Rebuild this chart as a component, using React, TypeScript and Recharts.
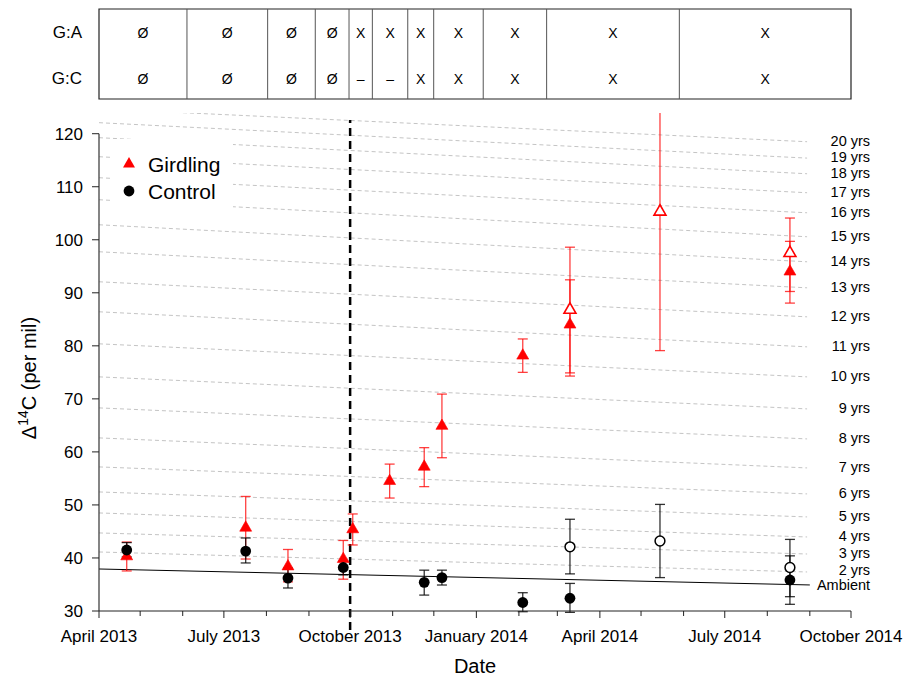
import React from 'react';
import {
  ComposedChart,
  Scatter,
  XAxis,
  YAxis,
  ErrorBar,
  ReferenceLine,
  ReferenceDot,
  ReferenceArea,
  Legend,
} from 'recharts';

const FONT = '"Liberation Sans", Arial, Helvetica, sans-serif';

// x values are days since 1 April 2013
const X_TICKS = [0, 30, 61, 91, 122, 153, 183, 214, 244, 275, 306, 334, 365, 395, 426, 456, 487, 518, 548];
const X_MAJOR = [0, 91, 183, 275, 365, 456, 548];
const X_MAJOR_LABELS = ['April 2013', 'July 2013', 'October 2013', 'January 2014', 'April 2014', 'July 2014', 'October 2014'];
const Y_TICKS = [30, 40, 50, 60, 70, 80, 90, 100, 110, 120];
const GIRDLING_START_DAY = 183;

// [day, value, lower, upper]
const GIRDLING_FILLED: number[][] = [
  [20.2, 40.3, 37.55, 43.0],
  [106.9, 45.7, 39.8, 51.6],
  [137.7, 38.4, 35.5, 41.6],
  [178.0, 39.8, 36.0, 43.3],
  [184.9, 45.4, 42.45, 48.3],
  [211.8, 54.5, 51.3, 57.7],
  [237.0, 57.2, 53.45, 60.8],
  [249.9, 64.9, 58.9, 70.9],
  [308.8, 78.15, 75.0, 81.3],
  [343.2, 84.0, 74.9, 92.45],
  [503.5, 94.0, 88.06, 99.7],
];
const GIRDLING_OPEN: number[][] = [
  [343.2, 86.8, 74.3, 98.6],
  [408.8, 105.3, 79.1, 131.5],
  [503.5, 97.5, 90.25, 104.1],
];
const CONTROL_FILLED: number[][] = [
  [20.2, 41.5, 40.2, 42.9],
  [106.9, 41.3, 39.06, 43.77],
  [137.7, 36.2, 34.34, 38.1],
  [178.0, 38.2, 36.8, 39.4],
  [237.0, 35.4, 33.0, 37.7],
  [249.9, 36.3, 34.9, 37.7],
  [308.8, 31.6, 29.87, 33.45],
  [343.2, 32.4, 29.75, 35.2],
  [503.5, 35.85, 31.26, 40.4],
];
const CONTROL_OPEN: number[][] = [
  [343.2, 42.1, 37.0, 47.3],
  [408.8, 43.2, 36.3, 50.1],
  [503.5, 38.2, 32.7, 43.5],
];

// Atmospheric reference lines (value at start day and at end day)
const REF_START_DAY = 0;
const REF_END_DAY = 516;
const AGE_YEARS = [2, 3, 4, 5, 6, 7, 8, 9, 10, 11, 12, 13, 14, 15, 16, 17, 18, 19, 20];
const AGE_START = [41.13, 44.72, 48.49, 52.45, 57.17, 62.64, 68.3, 74.15, 80.38, 86.42, 92.08, 97.74, 102.83, 107.55, 111.7, 115.66, 119.25, 122.08, 124.7];
const AGE_END = [37.36, 40.75, 43.96, 47.74, 52.08, 56.98, 62.45, 68.11, 74.15, 79.81, 85.47, 90.94, 95.85, 100.57, 105.09, 108.87, 112.45, 115.4, 118.49];
const AMBIENT_START = 37.92;
const AMBIENT_END = 34.91;

// Treatment table
const TABLE_DIVIDERS = [64.1, 122.9, 157.6, 182.2, 199.2, 225.0, 243.9, 280.0, 326.2, 422.9];
const ROW_NAMES = ['G:A', 'G:C'];
const ROW_GA = ['Ø', 'Ø', 'Ø', 'Ø', 'X', 'X', 'X', 'X', 'X', 'X', 'X'];
const ROW_GC = ['Ø', 'Ø', 'Ø', 'Ø', '–', '–', 'X', 'X', 'X', 'X', 'X'];

const RED = '#ff0000';
const PLOT_BOTTOM = 611;

const toPoints = (rows: number[][]) =>
  rows.map(([x, y, lo, hi]) => ({ x, y, err: [y - lo, hi - y] }));

const triPoints = (cx: number, cy: number, r: number) => {
  const xc = r * 0.866;
  return `${cx},${cy - r} ${cx + xc},${cy + r / 2} ${cx - xc},${cy + r / 2}`;
};

const FilledTri = (p: any) => (
  <polygon points={triPoints(p.cx, p.cy, 6.9)} fill={RED} stroke={RED} strokeWidth={0.6} />
);
const OpenTri = (p: any) => (
  <polygon points={triPoints(p.cx, p.cy, 6.9)} fill="#fff" stroke={RED} strokeWidth={1.6} />
);
const FilledDot = (p: any) => <circle cx={p.cx} cy={p.cy} r={5.4} fill="#000" />;
const OpenDot = (p: any) => (
  <circle cx={p.cx} cy={p.cy} r={4.9} fill="#fff" stroke="#000" strokeWidth={1.5} />
);

const XTick = (props: any) => {
  const { x, payload } = props;
  const idx = X_MAJOR.indexOf(payload.value);
  const major = idx >= 0;
  return (
    <g>
      <line x1={x} x2={x} y1={PLOT_BOTTOM} y2={PLOT_BOTTOM + (major ? 7 : 5)} stroke="#222" strokeWidth={1} />
      {major && (
        <text x={x} y={642} textAnchor="middle" fontSize={17} fill="#000">
          {X_MAJOR_LABELS[idx]}
        </text>
      )}
    </g>
  );
};

const XTitle = (props: any) => {
  const vb = props.viewBox || { x: 99, width: 752 };
  return (
    <text x={vb.x + vb.width / 2} y={673} textAnchor="middle" fontSize={20} fill="#000">
      Date
    </text>
  );
};

const YTitle = () => (
  <text transform="translate(36, 378) rotate(-90)" textAnchor="middle" fontSize={20} fill="#000">
    Δ
    <tspan fontSize={14} dy={-8}>
      14
    </tspan>
    <tspan dy={8}>C (per mil)</tspan>
  </text>
);

const SideLabel = (props: any) => {
  const vb = props.viewBox;
  const cx = vb.x + vb.width / 2;
  const cy = vb.y + vb.height / 2;
  return (
    <text x={cx + 63} y={cy + (props.shift || 0)} textAnchor="end" dominantBaseline="central" fontSize={14.5} fill="#000">
      {props.text}
    </text>
  );
};

const LegendBox = () => (
  <svg width={123} height={73} style={{ display: 'block', background: '#fff' }}>
    <polygon points={triPoints(19, 25, 6.9)} fill={RED} />
    <text x={38} y={33} fontSize={21} fill="#000" fontFamily={FONT}>
      Girdling
    </text>
    <circle cx={19} cy={52} r={5.4} fill="#000" />
    <text x={38} y={59.5} fontSize={21} fill="#000" fontFamily={FONT}>
      Control
    </text>
  </svg>
);

const bounds = [0, ...TABLE_DIVIDERS, 548];
const ROW_Y = [0.735, 0.225];
const tableCells = [ROW_GA, ROW_GC].flatMap((row, r) =>
  row.map((s, i) => ({ x: (bounds[i] + bounds[i + 1]) / 2, y: ROW_Y[r], s }))
);
const rowLabels = ROW_NAMES.map((s, r) => ({ x: 0, y: ROW_Y[r], s }));

const CellText = (p: any) => (
  <text x={p.cx} y={p.cy} textAnchor="middle" dominantBaseline="central" fontSize={14} fill="#000">
    {p.payload.s}
  </text>
);
const RowLabelText = (p: any) => (
  <text x={p.cx - 17} y={p.cy} textAnchor="end" dominantBaseline="central" fontSize={17} fill="#000">
    {p.payload.s}
  </text>
);

export default function App() {
  const gF = toPoints(GIRDLING_FILLED);
  const gO = toPoints(GIRDLING_OPEN);
  const cF = toPoints(CONTROL_FILLED);
  const cO = toPoints(CONTROL_OPEN);
  const redBar = 'rgba(255,0,0,0.75)';
  const blackBar = 'rgba(0,0,0,0.8)';

  return (
    <div style={{ position: 'absolute', left: 0, top: 0, width: 911, height: 677, fontFamily: FONT, background: '#fff' }}>
      <div style={{ position: 'absolute', left: 0, top: 0 }}>
        <ComposedChart width={911} height={677} margin={{ top: 112.5, right: 60, bottom: 0, left: 0 }}>
          <XAxis
            type="number"
            dataKey="x"
            domain={[0, 548]}
            ticks={X_TICKS}
            interval={0}
            allowDataOverflow
            height={66}
            tickLine={false}
            axisLine={{ stroke: '#222' }}
            tick={(p: any) => <XTick {...p} />}
            label={<XTitle />}
          />
          <YAxis
            type="number"
            dataKey="y"
            domain={[30, 124]}
            ticks={Y_TICKS}
            interval={0}
            allowDataOverflow
            width={99}
            axisLine={false}
            tickLine={{ stroke: '#222' }}
            tickSize={7}
            tickMargin={9}
            tick={{ fontSize: 17, fill: '#000' }}
            label={<YTitle />}
          />
          {AGE_YEARS.map((a, i) => (
            <ReferenceLine
              key={'age' + a}
              segment={[
                { x: REF_START_DAY, y: AGE_START[i] },
                { x: REF_END_DAY, y: AGE_END[i] },
              ]}
              stroke="#c4c4c4"
              strokeWidth={1}
              strokeDasharray="4 3"
              ifOverflow="hidden"
            />
          ))}
          <ReferenceLine
            segment={[
              { x: REF_START_DAY, y: AMBIENT_START },
              { x: REF_END_DAY + 2, y: AMBIENT_END },
            ]}
            stroke="#000"
            strokeWidth={1}
            ifOverflow="hidden"
          />
          {AGE_YEARS.map((a, i) => (
            <ReferenceDot
              key={'lab' + a}
              x={REF_END_DAY}
              y={AGE_END[i]}
              r={1}
              fill="none"
              stroke="none"
              ifOverflow="visible"
              label={<SideLabel text={`${a} yrs`} shift={a === 2 ? -2 : -1} />}
            />
          ))}
          <ReferenceDot
            x={REF_END_DAY}
            y={AMBIENT_END}
            r={1}
            fill="none"
            stroke="none"
            ifOverflow="visible"
            label={<SideLabel text="Ambient" shift={0.5} />}
          />
          <ReferenceLine
            segment={[
              { x: 0, y: 30 },
              { x: 0, y: 120 },
            ]}
            stroke="#333"
            strokeWidth={1.2}
            ifOverflow="visible"
          />
          <ReferenceLine
            segment={[
              { x: GIRDLING_START_DAY, y: 26.4 },
              { x: GIRDLING_START_DAY, y: 122.6 },
            ]}
            stroke="#000"
            strokeWidth={2.5}
            strokeDasharray="8 5"
            ifOverflow="visible"
          />
          <Scatter name="Girdling" data={gF} shape={FilledTri} isAnimationActive={false}>
            <ErrorBar dataKey="err" direction="y" width={5} stroke={redBar} strokeWidth={1.3} />
          </Scatter>
          <Scatter name="Girdling (open)" data={gO} shape={OpenTri} isAnimationActive={false}>
            <ErrorBar dataKey="err" direction="y" width={5} stroke={redBar} strokeWidth={1.3} />
          </Scatter>
          <Scatter name="Control" data={cF} shape={FilledDot} isAnimationActive={false}>
            <ErrorBar dataKey="err" direction="y" width={5} stroke={blackBar} strokeWidth={1.3} />
          </Scatter>
          <Scatter name="Control (open)" data={cO} shape={OpenDot} isAnimationActive={false}>
            <ErrorBar dataKey="err" direction="y" width={5} stroke={blackBar} strokeWidth={1.3} />
          </Scatter>
          <Legend
            layout="horizontal"
            verticalAlign="middle"
            align="center"
            width={123}
            height={73}
            content={() => <LegendBox />}
            wrapperStyle={{ left: 110, top: 139, width: 123, height: 73, background: '#fff' }}
          />
        </ComposedChart>
      </div>
      <div style={{ position: 'absolute', left: 0, top: 0, width: 911, height: 112.5, background: '#fff', overflow: 'hidden' }}>
        <ComposedChart width={911} height={110} margin={{ top: 9, right: 60, bottom: 11, left: 99 }}>
          <XAxis type="number" dataKey="x" domain={[0, 548]} hide />
          <YAxis type="number" dataKey="y" domain={[0, 1]} hide />
          <ReferenceArea x1={0} x2={548} y1={0} y2={1} fill="#fff" fillOpacity={1} stroke="#222" strokeWidth={1.2} ifOverflow="visible" />
          {TABLE_DIVIDERS.map((d) => (
            <ReferenceLine key={'d' + d} x={d} stroke="#555" strokeWidth={1} />
          ))}
          <Scatter data={tableCells} shape={CellText} isAnimationActive={false} />
          <Scatter data={rowLabels} shape={RowLabelText} isAnimationActive={false} />
        </ComposedChart>
      </div>
    </div>
  );
}
